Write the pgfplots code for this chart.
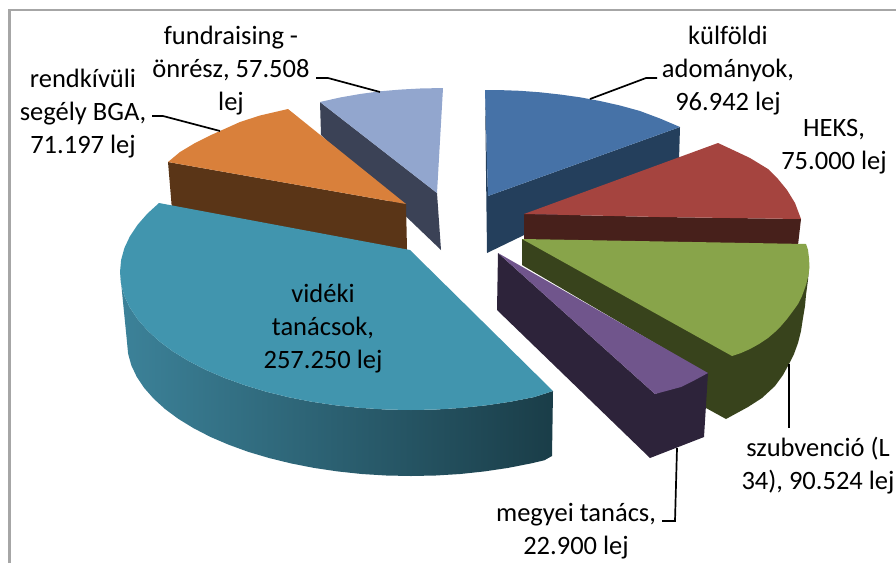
\documentclass[border=0pt]{standalone}
\usepackage{pgfplots}
\pgfplotsset{compat=1.18}
\usepackage{fontspec}
\setmainfont{Carlito}
\definecolor{bluetop}{HTML}{4672A7}\definecolor{blueside}{HTML}{243F5C}
\definecolor{redtop}{HTML}{A5443F}\definecolor{redside}{HTML}{47201B}
\definecolor{greentop}{HTML}{88A44A}\definecolor{greenside}{HTML}{38431C}
\definecolor{purpletop}{HTML}{70558C}\definecolor{purpleside}{HTML}{2D233A}
\definecolor{tealtop}{HTML}{4195AE}\definecolor{tealleft}{HTML}{3C8299}\definecolor{tealright}{HTML}{1A3D48}
\definecolor{orangetop}{HTML}{D9803B}\definecolor{orangeside}{HTML}{5A3517}
\definecolor{ltop}{HTML}{92A6CE}\definecolor{lside}{HTML}{3B4256}
\definecolor{frame}{HTML}{A6A6A6}
\begin{document}
\begin{tikzpicture}
\path[use as bounding box] (0,0) rectangle (896pt,563pt);
\begin{axis}[at={(0pt,0pt)},anchor=south west,scale only axis,width=896pt,height=563pt,
  xmin=0,xmax=896,ymin=0,ymax=563,y dir=reverse,axis lines=none,clip=false,
  every axis plot/.append style={no markers}]
% frame
\addplot[frame,line width=2.2pt] coordinates {(9.5,563)(9.5,10)(896,10)};
% fundraising
\addplot[fill=lside,draw=none] coordinates {(320,102)(437,193)(441,250)(321,135)} --cycle;
\addplot[fill=ltop,draw=none] coordinates {(320,102)(340,97.5)(360,94)(380,91.3)(400,89.6)(420,88.5)(443,88)(437,193)} --cycle;
% kulfoldi
\addplot[fill=blueside,draw=none] coordinates {(485,90)(488,196)(680,127)(679,160)(487,253)} --cycle;
\addplot[fill=bluetop,draw=none] coordinates {(485,90)(500,90.1)(520,90.8)(540,92.3)(560,94.5)(580,97.3)(600,101)(620,105.5)(640,111)(660,118.5)(680,127)(488,196)} --cycle;
% rendkivuli
\addplot[fill=orangeside,draw=none] coordinates {(168,162)(406,204)(407,250)(172,210)} --cycle;
\addplot[fill=orangetop,draw=none] coordinates {(168,162)(180,152)(195,143)(210,135.5)(220,131)(240,122)(260,115.5)(288,109)(406,204)} --cycle;
% videki
\addplot[left color=tealleft,right color=tealright,draw=none] coordinates {(120,272)(121.1,284)(124.4,296)(129.9,307.7)(137.6,319.2)(147.3,330.3)(159,341)(172.6,351.2)(188.1,360.7)(205.2,369.6)(224,377.7)(244.1,385)(265.5,391.5)(288,397.1)(311.5,401.7)(335.7,405.3)(360.5,407.9)(385.6,409.5)(411,410)(436.4,409.5)(461.5,407.9)(486.3,405.3)(510.5,401.7)(534,397.1)(553,391)(552,456)(544.3,460.3)(531,463.4)(508.1,467.9)(484.5,471.4)(460.3,474)(435.8,475.5)(411,476)(386.2,475.5)(361.7,474)(337.5,471.4)(313.9,467.9)(291,463.4)(269,458)(248.1,451.8)(228.4,444.6)(210.2,436.8)(193.4,428.1)(178.4,418.9)(165,409)(153.6,398.6)(144.1,387.8)(136.7,376.7)(131.3,365.3)(128.1,353.7)(127,342)} --cycle;
\addplot[fill=tealtop,draw=none] coordinates {(159,203)(147.3,213.7)(137.6,224.8)(129.9,236.3)(124.4,248)(121.1,260)(120,272)(121.1,284)(124.4,296)(129.9,307.7)(137.6,319.2)(147.3,330.3)(159,341)(172.6,351.2)(188.1,360.7)(205.2,369.6)(224,377.7)(244.1,385)(265.5,391.5)(288,397.1)(311.5,401.7)(335.7,405.3)(360.5,407.9)(385.6,409.5)(411,410)(436.4,409.5)(461.5,407.9)(486.3,405.3)(510.5,401.7)(534,397.1)(553,391)(410,250)} --cycle;
% HEKS
\addplot[fill=redside,draw=none] coordinates {(524,214)(660,217)(801,219)(798,245)(524,241)} --cycle;
\addplot[fill=redtop,draw=none] coordinates {(718,143)(733,150)(750,158)(768,169)(778,179)(787,190)(795,203)(801,219)(660,217)(524,214)} --cycle;
% szubvencio
\addplot[fill=greenside,draw=none] coordinates {(522,239)(522,265)(706,373)(706,408)(726,419)(737,413)(748,407)(762,398)(775,386)(783,375)(789,364)(794,354)(798,343)(801,331)(803,318)(805,306)(806,295)(808,280)(809,267)} --cycle;
\addplot[fill=greentop,draw=none] coordinates {(522,239)(806,244)(808,250)(809,258)(809.5,267)(808.5,275)(806,285)(802,296)(798,304)(793,311)(787,319)(781,326)(775,332)(768,338)(759,344)(750,349)(741,353)(732,356)} --cycle;
% megyei
\addplot[fill=purpleside,draw=none] coordinates {(498,253)(497,310)(650,458)(704,437)(708,373)(655,394)} --cycle;
\addplot[fill=purpletop,draw=none] coordinates {(498,253)(708,373)(695,380)(681,387)(668,390.5)(655,394)} --cycle;
% leaders
\addplot[black,line width=1.7pt] coordinates {(316,78)(328,78)(380,92)};
\addplot[black,line width=1.7pt] coordinates {(152,116)(163,116)(220,131)};
\addplot[black,line width=1.7pt] coordinates {(657,78)(646,78)(590,99)};
\addplot[black,line width=1.7pt] coordinates {(789,364)(789,428)};
\addplot[black,line width=1.7pt] coordinates {(677,448)(675,521)(662,521)};
% labels
\tikzset{lab/.style={align=center,font=\fontsize{26.5}{33}\selectfont,text=black,inner sep=0pt}}
\node[lab] at (axis cs:231,71) {fundraising -\\önrész, 57.508\\lej};
\node[lab] at (axis cs:83,114) {rendkívüli\\segély BGA,\\71.197 lej};
\node[lab] at (axis cs:728,71) {külföldi\\adományok,\\96.942 lej};
\node[lab] at (axis cs:834,147) {HEKS,\\75.000 lej};
\node[lab] at (axis cs:818,466) {szubvenció (L\\34), 90.524 lej};
\node[lab] at (axis cs:576,531) {megyei tanács,\\22.900 lej};
\node[lab] at (axis cs:323,329) {vidéki\\tanácsok,\\257.250 lej};
\end{axis}
\end{tikzpicture}
\end{document}
